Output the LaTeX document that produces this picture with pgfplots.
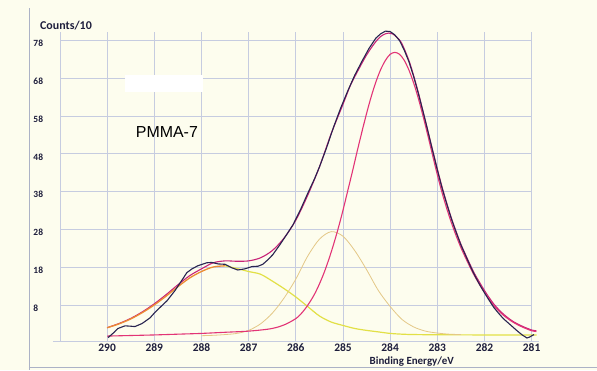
\documentclass[border=0pt]{standalone}
\usepackage{fontspec}
\setmainfont{Carlito}
\newfontfamily\arialfont{Liberation Sans}
\usepackage{pgfplots}
\pgfplotsset{compat=1.18}
\definecolor{bgc}{RGB}{253,253,238}
\definecolor{gridc}{RGB}{198,204,224}
\definecolor{framec}{RGB}{172,178,198}
\definecolor{txt}{RGB}{30,30,60}
\definecolor{datac}{RGB}{40,36,80}
\definecolor{envc}{RGB}{200,35,120}
\definecolor{mainc}{RGB}{226,52,118}
\definecolor{orangec}{RGB}{236,140,50}
\definecolor{yellowc}{RGB}{226,224,70}
\definecolor{tanc}{RGB}{228,200,135}
\begin{document}
\begin{tikzpicture}
\fill[bgc] (0,0) rectangle (597bp,370bp);
\draw[framec, line width=0.8bp] (29bp,0) -- (29bp,362bp);
\draw[framec, line width=0.8bp] (29bp,2bp) -- (597bp,2bp);
\begin{axis}[
  at={(60bp,28bp)}, anchor=south west,
  scale only axis, width=472bp, height=309.7bp,
  xmin=281, xmax=291, x dir=reverse,
  ymin=-1.5, ymax=80,
  axis line style={draw=none},
  xtick={281,282,283,284,285,286,287,288,289,290,291},
  xticklabels={281,282,283,284,285,286,287,288,289,290,},
  ytick={8,18,28,38,48,58,68,78},
  major tick length=0pt,
  grid=major,
  grid style={gridc, line width=0.6bp},
  tick label style={text=txt},
  xticklabel style={font=\fontsize{11.5}{12}\selectfont\bfseries, yshift=1.5bp},
  yticklabel style={font=\fontsize{9.5}{10}\selectfont\bfseries, anchor=west, xshift=-30bp, yshift=-3bp},
  /pgf/number format/assume math mode=true,
  clip=false,
]
\draw[gridc, line width=0.8bp] (axis cs:291.15,-1.5) -- (axis cs:280.85,-1.5);
% envelope
\addplot[envc, line width=1.1bp, smooth] coordinates {
(290,2.2) (289.75,3.3) (289.5,4.65) (289.25,6.4) (289,8.5) (288.75,10.9) (288.5,13.5) (288.25,15.9) (288,17.7) (287.75,19.3) (287.5,19.8) (287.25,19.7) (287,19.8) (286.75,20.6) (286.5,22.5) (286.25,25.8) (286,30.5) (285.75,37) (285.5,44.5) (285.25,53.3) (285,61) (284.86,65.5) (284.75,68.3) (284.6,71.8) (284.5,74) (284.4,75.9) (284.3,77.6) (284.2,78.9) (284.1,79.6) (284.03,79.8) (283.95,79.6) (283.85,78.6) (283.75,77) (283.6,72.5) (283.5,68.5) (283.4,64) (283.3,59) (283.2,54) (283.1,49) (283,44) (282.9,39.3) (282.8,35) (282.7,31) (282.6,27.5) (282.5,24.2) (282.4,21.4) (282.3,18.7) (282.2,16.2) (282,12) (281.8,8.4) (281.6,5.8) (281.4,3.9) (281.2,2.6) (281,1.6) (280.9,1.4)
};
% component near 287.6 (orange part)
\addplot[orangec, line width=1.3bp, smooth] coordinates {
(290,2.2) (289.75,3.2) (289.5,4.5) (289.25,6.2) (289,8.2) (288.75,10.5) (288.5,13) (288.25,15.3) (288,17) (287.75,18.2) (287.5,18.5)
};
% same component, yellow tail
\addplot[yellowc, line width=1.2bp, smooth] coordinates {
(287.5,18.5) (287.25,17.8) (287,17.0) (286.75,16.3) (286.5,14.5) (286.25,12.5) (286,10.3) (285.75,7.8) (285.5,5.3) (285.25,3.7) (285,2.8) (284.75,2.0) (284.5,1.5) (284.25,1.1) (284,0.7) (283.75,0.5) (283.5,0.4) (283,0.35) (282,0.3) (281,0.3) (280.9,0.3)
};
% component near 285.25 (tan)
\addplot[tanc, line width=0.8bp, smooth] coordinates {
(288,0.1) (287.75,0.2) (287.5,0.4) (287.25,0.7) (287,1.5) (286.75,3.2) (286.5,6.0) (286.25,10.0) (286,15.0) (285.75,21.0) (285.5,25.5) (285.25,27.5) (285,26.3) (284.75,22.5) (284.5,17.5) (284.25,12.0) (284,7.8) (283.75,4.4) (283.5,2.4) (283.25,1.3) (283,0.8) (282.75,0.5) (282.5,0.4)
};
% main component near 283.9
\addplot[mainc, line width=1.1bp, smooth] coordinates {
(290,0.0) (289.5,0.15) (289,0.3) (288.5,0.5) (288,0.7) (287.5,1.0) (287,1.3) (286.6,1.8) (286.4,2.3) (286.2,3.2) (286,4.6) (285.9,5.7) (285.8,7.2) (285.7,9.0) (285.6,11.1) (285.5,13.7) (285.4,16.7) (285.3,20.2) (285.2,24.1) (285.1,28.4) (285,33.1) (284.9,38.2) (284.8,43.3) (284.7,48.6) (284.6,53.7) (284.5,58.6) (284.4,63.1) (284.3,67.0) (284.2,70.2) (284.1,72.6) (284,74.2) (283.9,74.7) (283.8,74.2) (283.7,72.6) (283.6,70.0) (283.5,66.6) (283.4,62.5) (283.3,57.8) (283.2,52.8) (283.1,47.6) (283,42.5) (282.9,37.8) (282.8,33.6) (282.7,29.8) (282.6,26.4) (282.5,23.3) (282.4,20.6) (282.3,18.0) (282.2,15.6) (282,11.5) (281.8,8.0) (281.6,5.5) (281.4,3.7) (281.2,2.4) (281,1.4) (280.9,1.2)
};
% measured data
\addplot[datac, line width=1.1bp] coordinates {
(289.98,-0.4) (289.85,1.0) (289.77,2.0) (289.62,2.7) (289.5,2.6) (289.41,2.5) (289.26,3.3) (289.09,4.8) (288.99,6.2) (288.84,8.0) (288.73,9.3) (288.56,12.0) (288.42,14.6) (288.31,16.7) (288.2,17.7) (288.08,18.5) (287.89,19.3) (287.78,19.4) (287.65,19.0) (287.5,18.9) (287.36,18.0) (287.23,17.4) (287.08,17.7) (286.93,18.3) (286.8,18.4) (286.7,18.9) (286.6,20.0) (286.49,21.4) (286.34,24.0) (286.19,26.8) (286.06,29.3) (285.9,33.3) (285.75,37.5) (285.6,41.5) (285.5,44.5) (285.35,49.5) (285.2,55) (285.05,60) (284.9,64.5) (284.75,68.7) (284.6,72.3) (284.45,75.7) (284.3,78.5) (284.2,79.6) (284.1,80.3) (284.0,80.2) (283.9,79.3) (283.8,77.8) (283.7,75.3) (283.6,72.2) (283.5,68.3) (283.4,63.8) (283.3,59) (283.2,54) (283.1,48.8) (283.0,43.8) (282.9,39) (282.8,34.8) (282.7,30.8) (282.6,27.3) (282.5,24) (282.4,21.2) (282.3,18.4) (282.2,15.8) (282.1,13.5) (282.0,11.4) (281.9,9.4) (281.8,7.5) (281.7,6.0) (281.6,4.6) (281.5,3.5) (281.4,2.4) (281.3,1.3) (281.2,0.3) (281.1,-0.5) (281.05,-0.3) (280.95,0.4)
};
\end{axis}
\fill[white] (125bp,278bp) rectangle (203bp,295bp);
\node[anchor=base west, inner sep=0pt, text=txt, font=\fontsize{12}{13}\selectfont\bfseries] at (40bp,340bp) {Counts/10};
\node[anchor=center, inner sep=0pt, text=txt, font=\fontsize{11}{12}\selectfont\bfseries] at (412bp,8bp) {Binding Energy/eV};
\node[anchor=center, inner sep=0pt, text=black, font=\arialfont\fontsize{16}{18}\selectfont] at (167bp,238bp) {PMMA-7};
\end{tikzpicture}
\end{document}
